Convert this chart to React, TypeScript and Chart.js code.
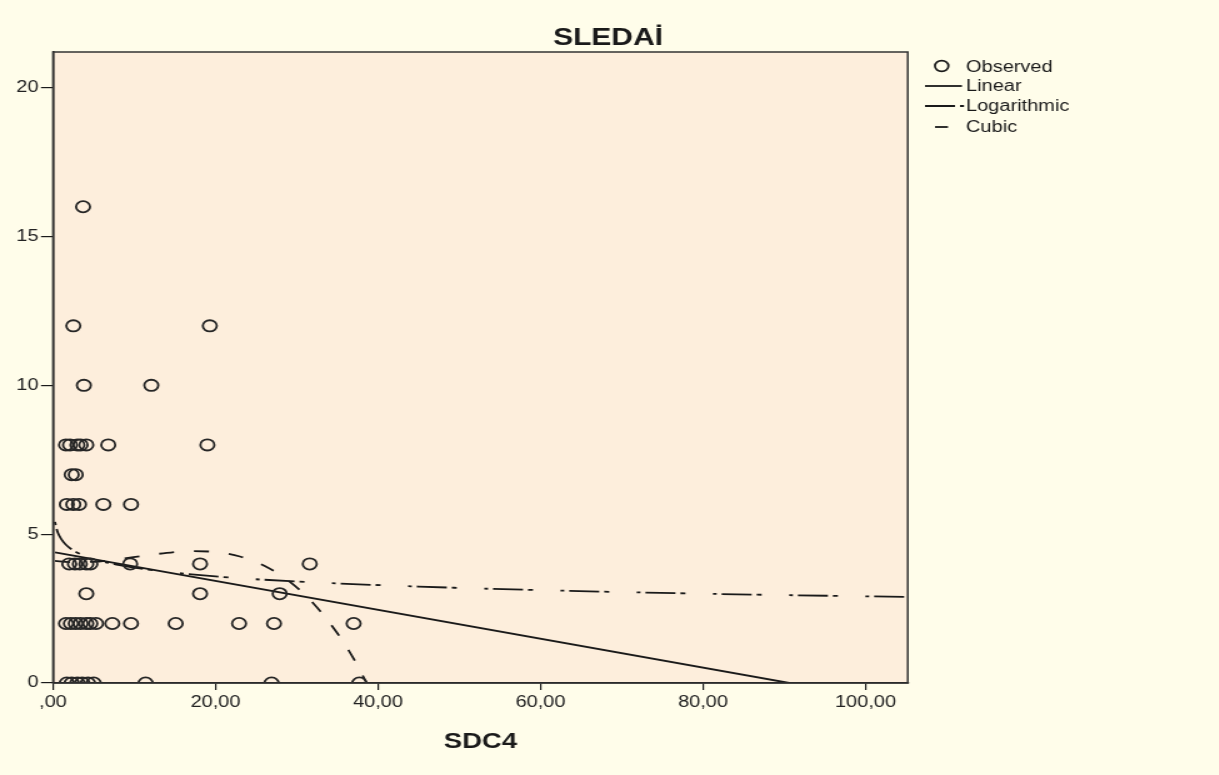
import React, { useEffect, useRef } from 'react';
import { Chart, registerables } from 'chart.js';

Chart.register(...registerables);

// ---- data ----
const chartTitle = 'SLEDAİ';
const xAxisTitle = 'SDC4';
const xTickValues = [0, 20, 40, 60, 80, 100];
const xTickLabels = [',00', '20,00', '40,00', '60,00', '80,00', '100,00'];
const yTickValues = [0, 5, 10, 15, 20];
const yTickLabels = ['0', '5', '10', '15', '20'];
const legendLabels = ['Observed', 'Linear', 'Logarithmic', 'Cubic'];

const observedX = [
  3.7,
  2.5, 19.3,
  3.8, 12.1,
  1.6, 2.1, 3.0, 3.4, 4.1, 6.8, 19.0,
  2.3, 2.8,
  1.7, 2.5, 3.2, 6.2, 9.6,
  2.0, 2.7, 3.3, 4.1, 4.6, 9.5, 18.1, 31.6,
  4.1, 18.1, 27.9,
  1.6, 2.2, 2.8, 3.4, 4.1, 4.6, 5.3, 7.3, 9.6, 15.1, 22.9, 27.2, 37.0,
  1.7, 2.3, 3.0, 3.6, 4.3, 5.0, 11.4, 26.9, 37.7,
];
const observedY = [
  16,
  12, 12,
  10, 10,
  8, 8, 8, 8, 8, 8, 8,
  7, 7,
  6, 6, 6, 6, 6,
  4, 4, 4, 4, 4, 4, 4, 4,
  3, 3, 3,
  2, 2, 2, 2, 2, 2, 2, 2, 2, 2, 2, 2, 2,
  0, 0, 0, 0, 0, 0, 0, 0, 0,
];

const linearX = [0.25, 90.6];
const linearY = [4.39, 0];

const logX = [0.25, 0.4, 0.6, 1, 1.5, 2, 3, 5, 8, 12, 20, 30, 45, 60, 80, 105.2];
const logY = [5.41, 5.22, 5.05, 4.84, 4.67, 4.55, 4.38, 4.16, 3.97, 3.8, 3.58, 3.41, 3.24, 3.12, 3.0, 2.89];

const cubicX = [0.25, 2, 5, 8, 11, 14, 17, 20, 23, 26, 29, 32, 35, 37, 38.6];
const cubicY = [4.1, 4.06, 4.07, 4.16, 4.27, 4.37, 4.43, 4.4, 4.25, 3.94, 3.43, 2.69, 1.67, 0.82, 0];

// ---- layout / style ----
const W = 1219;
const H = 775;
const STRETCH = 1.25; // reference is horizontally stretched
const IW = W / STRETCH;
const FONT = '"Liberation Sans", Arial, Helvetica, sans-serif';
const PAGE_BG = '#FFFDEA';
const PLOT_BG = '#FDEEDC';
const INK = '#1a1a1a';

const toPts = (xs: number[], ys: number[]) => xs.map((x, i) => ({ x, y: ys[i] }));
const vx = (v: number) => v / STRETCH;

const DASH_DOT = [3, 4, 24, 4, 4, 22];
const DASH = [12, 16];

const decorPlugin = {
  id: 'decor',
  beforeDraw(chart: any) {
    const { ctx, chartArea } = chart;
    ctx.save();
    ctx.fillStyle = PAGE_BG;
    ctx.fillRect(0, 0, chart.width, chart.height);
    ctx.fillStyle = PLOT_BG;
    ctx.fillRect(chartArea.left, chartArea.top, chartArea.right - chartArea.left, chartArea.bottom - chartArea.top);
    ctx.restore();
  },
  afterDraw(chart: any) {
    const { ctx, chartArea } = chart;
    ctx.save();
    // frame
    ctx.strokeStyle = '#333';
    ctx.lineWidth = 1.5;
    ctx.strokeRect(chartArea.left, chartArea.top, chartArea.right - chartArea.left, chartArea.bottom - chartArea.top);

    // title
    ctx.fillStyle = INK;
    ctx.font = `bold 24px ${FONT}`;
    ctx.textAlign = 'center';
    ctx.textBaseline = 'middle';
    ctx.fillText(chartTitle, vx(608), 38);

    // legend
    ctx.font = `16px ${FONT}`;
    ctx.textAlign = 'left';
    const tx = vx(966);
    ctx.strokeStyle = INK;
    ctx.lineWidth = 1.7;
    ctx.beginPath();
    ctx.arc(vx(941.7), 66, 5.4, 0, Math.PI * 2);
    ctx.stroke();
    ctx.fillText(legendLabels[0], tx, 68);

    ctx.lineWidth = 1.8;
    ctx.beginPath();
    ctx.moveTo(vx(925), 86);
    ctx.lineTo(vx(962), 86);
    ctx.stroke();
    ctx.fillText(legendLabels[1], tx, 87);

    ctx.setLineDash(DASH_DOT);
    ctx.lineDashOffset = 7;
    ctx.beginPath();
    ctx.moveTo(vx(925), 106);
    ctx.lineTo(vx(964), 106);
    ctx.stroke();
    ctx.setLineDash([]);
    ctx.fillText(legendLabels[2], tx, 107);

    ctx.beginPath();
    ctx.moveTo(vx(935), 127);
    ctx.lineTo(vx(948), 127);
    ctx.stroke();
    ctx.fillText(legendLabels[3], tx, 128);
    ctx.restore();
  },
};

export default function App() {
  const ref = useRef<HTMLCanvasElement | null>(null);

  useEffect(() => {
    if (!ref.current) return;
    const chart = new Chart(ref.current, {
      type: 'scatter',
      data: {
        datasets: [
          {
            label: legendLabels[0],
            data: toPts(observedX, observedY),
            showLine: false,
            pointStyle: 'circle',
            pointRadius: 5.6,
            pointBorderWidth: 1.8,
            pointBackgroundColor: 'rgba(0,0,0,0)',
            pointBorderColor: '#262626',
            clip: 0,
            order: 1,
          },
          {
            label: legendLabels[1],
            data: toPts(linearX, linearY),
            showLine: true,
            pointRadius: 0,
            borderColor: INK,
            borderWidth: 1.8,
            order: 2,
          },
          {
            label: legendLabels[2],
            data: toPts(logX, logY),
            showLine: true,
            pointRadius: 0,
            borderColor: INK,
            borderWidth: 1.8,
            borderDash: DASH_DOT,
            cubicInterpolationMode: 'monotone',
            order: 3,
          },
          {
            label: legendLabels[3],
            data: toPts(cubicX, cubicY),
            showLine: true,
            pointRadius: 0,
            borderColor: INK,
            borderWidth: 1.8,
            borderDash: DASH,
            cubicInterpolationMode: 'monotone',
            order: 4,
          },
        ] as any,
      },
      options: {
        animation: false,
        responsive: false,
        maintainAspectRatio: false,
        devicePixelRatio: 1,
        layout: { padding: { top: 52, right: IW - vx(908), bottom: 0, left: 0 } },
        plugins: {
          legend: { display: false },
          title: { display: false },
          tooltip: { enabled: false },
        },
        scales: {
          x: {
            type: 'linear',
            min: 0,
            max: 105.2,
            afterFit: (s: any) => { s.height = H - 683; },
            afterBuildTicks: (s: any) => { s.ticks = xTickValues.map((v) => ({ value: v })); },
            ticks: {
              callback: (v: any) => xTickLabels[xTickValues.indexOf(Number(v))] ?? '',
              font: { family: FONT, size: 16 },
              color: '#222',
              padding: 3,
              maxRotation: 0,
              autoSkip: false,
            },
            grid: { drawOnChartArea: false, drawTicks: true, tickLength: 7, color: INK, lineWidth: 1.2 },
            border: { display: true, color: '#111', width: 1.5 },
            title: {
              display: true,
              text: xAxisTitle,
              font: { family: FONT, size: 22, weight: 'bold' },
              color: INK,
              padding: { top: 0, bottom: 20 },
            },
          },
          y: {
            type: 'linear',
            min: 0,
            max: 21.2,
            afterFit: (s: any) => { s.width = vx(53); },
            afterBuildTicks: (s: any) => { s.ticks = yTickValues.map((v) => ({ value: v })); },
            ticks: {
              callback: (v: any) => yTickLabels[yTickValues.indexOf(Number(v))] ?? '',
              font: { family: FONT, size: 16 },
              color: '#222',
              padding: 2,
              autoSkip: false,
            },
            grid: { drawOnChartArea: false, drawTicks: true, tickLength: 9.6, color: INK, lineWidth: 1.2 },
            border: { display: true, color: '#111', width: 1.5 },
          },
        },
      } as any,
      plugins: [decorPlugin],
    });
    return () => chart.destroy();
  }, []);

  return (
    <div
      style={{
        position: 'fixed',
        left: 0,
        top: 0,
        width: W,
        height: H,
        background: PAGE_BG,
        overflow: 'hidden',
      }}
    >
      <div style={{ width: IW, height: H, transform: `scaleX(${STRETCH})`, transformOrigin: '0 0' }}>
        <canvas ref={ref} width={IW} height={H} style={{ display: 'block' }} />
      </div>
    </div>
  );
}
